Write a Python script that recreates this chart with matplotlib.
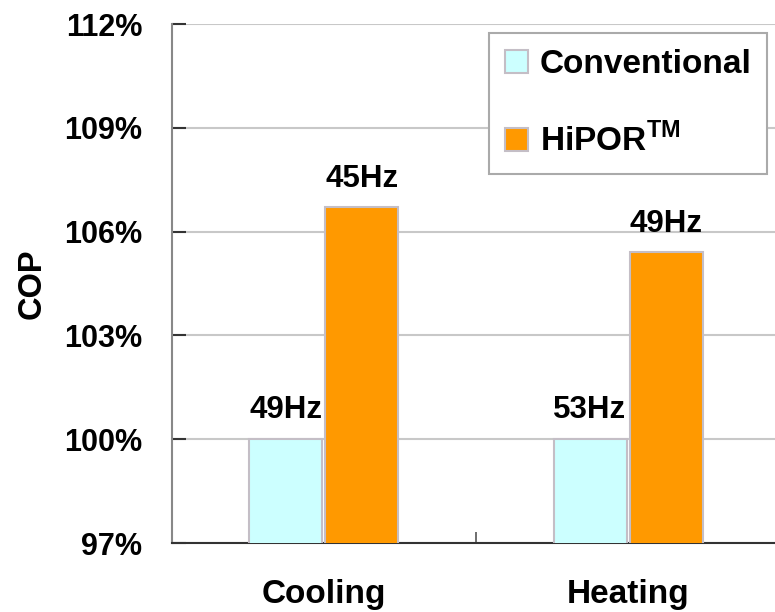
import matplotlib.pyplot as plt
import numpy as np

plt.rcParams["font.family"] = ["Liberation Sans", "DejaVu Sans"]
plt.rcParams["font.weight"] = "bold"
plt.rcParams["mathtext.fontset"] = "custom"
plt.rcParams["mathtext.rm"] = "Liberation Sans"

modes = ["Cooling", "Heating"]
series = ["Conventional", "HiPOR$^{\\rm TM}$"]
conventional = [100.0, 100.0]
hipor = [106.7, 105.4]
conventional_freq = ["49Hz", "53Hz"]
hipor_freq = ["45Hz", "49Hz"]
yticks = [97, 100, 103, 106, 109, 112]

colors = ["#CCFFFF", "#FF9900"]
edge = "#C4BEC6"

fig = plt.figure(figsize=(7.75, 6.12), dpi=100)
ax = fig.add_axes([0.2213, 0.1127, 0.7855, 0.848])

x = np.arange(len(modes))
w = 0.24
off = 0.125
b1 = ax.bar(x - off, conventional, w, color=colors[0], edgecolor=edge,
            linewidth=1.5, label=series[0], zorder=3)
b2 = ax.bar(x + off, hipor, w, color=colors[1], edgecolor=edge,
            linewidth=1.5, label=series[1], zorder=3)

# frequency labels above each bar
for bars, labels in [(b1, conventional_freq), (b2, hipor_freq)]:
    for rect, txt in zip(bars, labels):
        ax.annotate(txt, (rect.get_x() + rect.get_width() / 2, rect.get_height()),
                    xytext=(0, 10), textcoords="offset points",
                    ha="center", va="bottom", fontsize=22.5, fontweight="bold",
                    zorder=4)

ax.set_xlim(-0.5, 1.5)
ax.set_ylim(97, 112)
ax.set_yticks(yticks)
ax.set_yticklabels([f"{v}%" for v in yticks])
ax.set_xticks(x)
ax.set_xticklabels(modes)
ax.set_xticks([0.5], minor=True)

ax.tick_params(axis="y", direction="in", length=10, width=1.5, color="#333333",
               labelsize=22, pad=21)
ax.tick_params(axis="x", which="major", length=0, labelsize=24, pad=26)
ax.tick_params(axis="x", which="minor", direction="in", length=8, width=1.2,
               color="#555555")

ax.yaxis.grid(True, color="#C8C8C8", linewidth=1.5, zorder=0)
ax.set_axisbelow(True)
ax.spines["top"].set_visible(False)
ax.spines["right"].set_visible(False)
ax.spines["left"].set_color("#888888")
ax.spines["left"].set_linewidth(1.5)
ax.spines["bottom"].set_color("#333333")
ax.spines["bottom"].set_linewidth(1.5)

ax.set_ylabel("COP", fontsize=23.5, fontweight="bold", labelpad=12)

leg = ax.legend(loc="upper right", bbox_to_anchor=(0.979, 0.983),
                borderaxespad=0, fontsize=24, handlelength=0.7,
                handleheight=0.7, handletextpad=0.35, labelspacing=1.3,
                borderpad=0.48, fancybox=False, framealpha=1)
leg.get_frame().set_edgecolor("#AAAAAA")
leg.get_frame().set_linewidth(1.5)
for t in leg.get_texts():
    t.set_fontweight("bold")

fig.savefig("out.png", dpi=100)
